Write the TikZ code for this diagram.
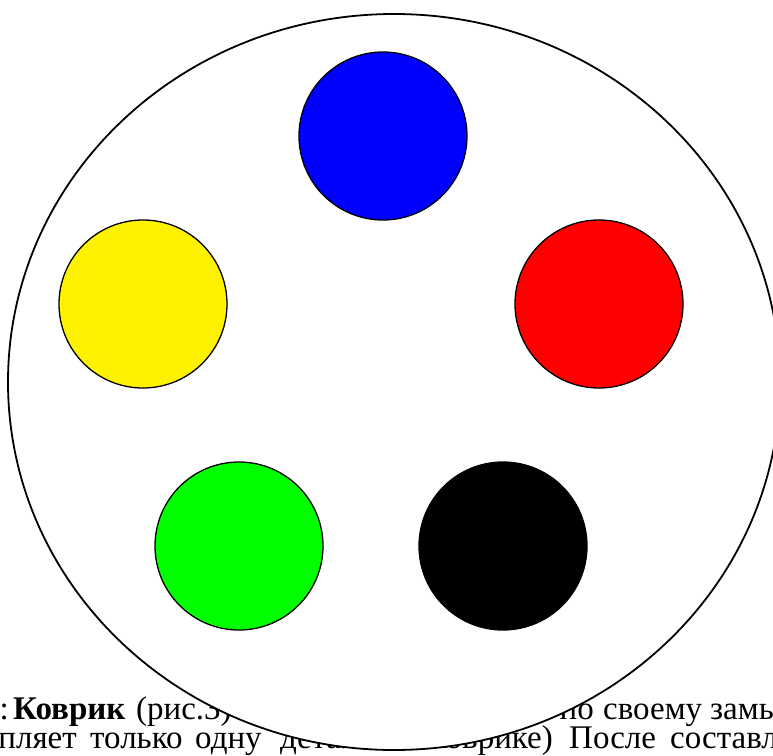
\documentclass[tikz,border=0pt]{standalone}
\usepackage{fontspec}
\setmainfont{Liberation Serif}
\usetikzlibrary{shapes.geometric}
\begin{document}
\begin{tikzpicture}[x=1pt,y=-1pt,
  word/.style={anchor=base west, inner sep=0pt, font=\fontsize{33}{38}\selectfont},
  wordend/.style={anchor=base east, inner sep=0pt, font=\fontsize{33}{38}\selectfont},
  mat/.style={draw=black, line width=1.8pt, fill=white, ellipse, inner sep=0pt},
  disc/.style={draw=black, line width=1.3pt, circle, inner sep=0pt, minimum size=168pt}]
\useasboundingbox (0,0) rectangle (773,755);
\clip (0,0) rectangle (773,755);
% text behind the mat
\node[wordend] (w0) at (9,719) {т:};
\node[word] (w1) at (13,719) {\textbf{Коврик}};
\node[word] (w2) at (136,719) {(рис.3)};
\node[wordend] (w3) at (594,719) {по};
\node[word] (w4) at (603,719) {своему};
\node[word] (w5) at (710,719) {замыслу};
\node[wordend] (v1) at (77,748) {прикрепляет};
\node[word] (v2) at (90,748) {только};
\node[word] (v3) at (195,748) {одну};
\node[word] (v4) at (280,748) {деталь};
\node[wordend] (v5) at (553,748) {коврике)};
\node[word] (v6) at (569,748) {После};
\node[word] (v7) at (670,748) {составления};
% mat
\node[mat, minimum width=772pt, minimum height=736pt] (mat) at (394,382) {};
\node[disc, fill=blue]   (cb) at (383,136) {};
\node[disc, fill=yellow] (cy) at (143,304) {};
\node[disc, fill=red]    (cr) at (599,304) {};
\node[disc, fill=green]  (cg) at (239,546) {};
\node[disc, fill=black]  (ck) at (503,546) {};
\end{tikzpicture}
\end{document}
